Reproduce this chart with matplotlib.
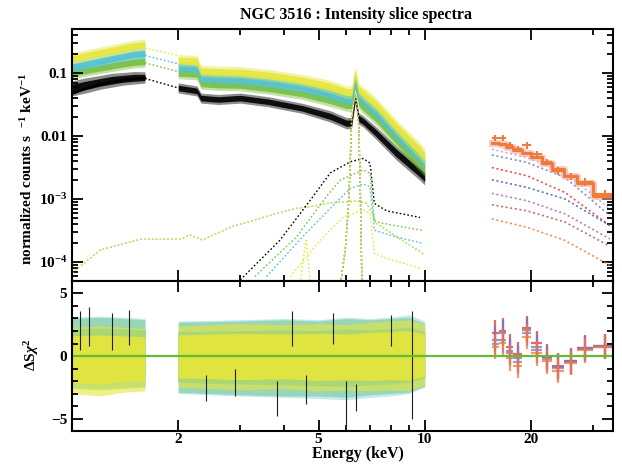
import matplotlib
matplotlib.use("Agg")
import matplotlib.pyplot as plt
import numpy as np
from matplotlib.ticker import FixedLocator, FixedFormatter, NullFormatter, LogLocator

plt.rcParams["font.family"] = ["Liberation Serif", "DejaVu Serif"]
plt.rcParams["font.weight"] = "bold"
plt.rcParams["mathtext.fontset"] = "custom"
plt.rcParams["mathtext.rm"] = "Liberation Serif:bold"
plt.rcParams["mathtext.it"] = "Liberation Serif:bold:italic"
plt.rcParams["mathtext.bf"] = "Liberation Serif:bold"

# ---- slice spectra, 1-1.6 keV (band centre, normalized counts/s/keV) ----
soft_energy = [1.0, 1.1, 1.2, 1.3, 1.4, 1.5, 1.61]
soft_black = [0.057, 0.064, 0.071, 0.077, 0.081, 0.084, 0.085]
soft_green = [0.100, 0.110, 0.120, 0.130, 0.140, 0.148, 0.152]
soft_cyan = [0.125, 0.140, 0.155, 0.170, 0.185, 0.200, 0.205]
soft_yellow = [0.170, 0.190, 0.210, 0.230, 0.250, 0.270, 0.280]
soft_spread = [0.09, 0.09, 0.09, 0.09, 0.09, 0.09, 0.09]       # dex half width
soft_spread_black = [0.12, 0.12, 0.11, 0.11, 0.10, 0.10, 0.09]
soft_model_black = [0.047, 0.057, 0.066, 0.073, 0.078, 0.081, 0.083]

# ---- slice spectra, 2-10 keV ----
hard_energy = [2.0, 2.26, 2.32, 2.6, 3.0, 3.6, 4.5, 5.4, 6.0, 6.2, 6.35, 6.5, 6.7, 7.3, 8.3, 9.7, 10.0]
hard_black = [0.058, 0.052, 0.040, 0.038, 0.040, 0.035, 0.0275, 0.0205, 0.016, 0.016, 0.040,
              0.019, 0.017, 0.011, 0.0054, 0.0026, 0.0022]
hard_green = [0.100, 0.096, 0.068, 0.065, 0.064, 0.057, 0.047, 0.037, 0.031, 0.031, 0.065,
              0.034, 0.029, 0.019, 0.0087, 0.0037, 0.0031]
hard_cyan = [0.125, 0.120, 0.085, 0.082, 0.080, 0.072, 0.060, 0.047, 0.039, 0.039, 0.080,
             0.043, 0.037, 0.024, 0.011, 0.0048, 0.0040]
hard_yellow = [0.160, 0.155, 0.108, 0.105, 0.103, 0.093, 0.077, 0.061, 0.050, 0.050, 0.100,
               0.055, 0.047, 0.031, 0.014, 0.0058, 0.0047]
hard_spread = [0.09, 0.09, 0.09, 0.09, 0.09, 0.09, 0.09, 0.10, 0.10, 0.10, 0.10,
               0.10, 0.11, 0.11, 0.12, 0.13, 0.13]
hard_spread_black = [0.08, 0.08, 0.08, 0.08, 0.08, 0.08, 0.08, 0.09, 0.09, 0.09, 0.09,
                     0.09, 0.09, 0.10, 0.11, 0.12, 0.12]

# ---- model across the 1.6-2 keV gap ----
gap_energy = [1.61, 2.0]
gap_black = [0.082, 0.058]
gap_green = [0.145, 0.105]
gap_cyan = [0.190, 0.140]
gap_yellow = [0.250, 0.190]

# ---- model components ----
scatter_energy = [1.0, 1.2, 1.56, 2.03, 2.16, 2.34, 2.86, 3.97, 4.33, 4.7, 5.4, 6.46, 6.85,
                  7.1, 7.3, 10.0]
scatter_flux = [6.7e-5, 1.55e-4, 2.3e-4, 2.3e-4, 2.7e-4, 2.24e-4, 3.7e-4, 6.3e-4, 7.1e-4,
                7.5e-4, 8.7e-4, 9.3e-4, 8.5e-4, 6.0e-4, 4.1e-4, 1.3e-4]

absorbed_energy_black = [3.0, 3.88, 4.74, 5.4, 6.15, 6.7, 7.0, 7.2, 7.8, 9.7]
absorbed_black = [5.2e-5, 2.2e-4, 9.6e-4, 2.6e-3, 3.9e-3, 4.4e-3, 3.7e-3, 8.5e-4, 6.5e-4, 5.1e-4]
absorbed_energy_green = [3.3, 4.33, 5.26, 5.76, 6.7, 7.0, 7.2, 8.0, 9.8]
absorbed_green = [5.9e-5, 2.5e-4, 1.09e-3, 2.0e-3, 2.9e-3, 2.55e-3, 4.4e-4, 3.9e-4, 3.2e-4]
absorbed_energy_cyan = [3.56, 4.6, 5.64, 6.15, 6.7, 7.0, 7.2, 8.3, 9.8]
absorbed_cyan = [5.9e-5, 2.85e-4, 9.1e-4, 1.48e-3, 1.73e-3, 1.57e-3, 3.2e-4, 2.5e-4, 2.0e-4]
absorbed_energy_yellow = [4.16, 5.05, 5.88, 6.7, 7.0, 7.2, 7.8, 9.8]
absorbed_yellow = [5.9e-5, 2.2e-4, 5.2e-4, 6.7e-4, 5.9e-4, 1.38e-4, 1.14e-4, 7.9e-5]

fe_line_energy = [5.75, 5.95, 6.08, 6.14, 6.2, 6.27, 6.35, 6.43, 6.5, 6.56, 6.6, 6.64]
fe_line_flux = [4e-5, 1.5e-4, 8e-4, 3e-3, 1.6e-2, 3.5e-2, 4.2e-2, 3e-2, 1.5e-2, 2e-3, 3e-4, 4e-5]
weak_line_energy = [4.42, 4.55, 4.61, 4.67, 4.74]
weak_line_flux = [4e-5, 1.4e-4, 2.2e-4, 1.2e-4, 4e-5]

# ---- hard X-ray slices (15-35 keV) ----
bat_edges = [15.48, 16.26, 17.02, 17.82, 18.87, 20.04, 21.49, 22.98, 24.85, 27.06, 30.03, 35.0]
bat_model = [7.8e-3, 7.5e-3, 6.6e-3, 6.0e-3, 5.3e-3, 4.6e-3, 3.8e-3, 3.0e-3, 2.33e-3, 1.82e-3, 1.1e-3]
bat_flux = [9.4e-3, 9.4e-3, 7.1e-3, 6.3e-3, 7.1e-3, 5.1e-3, 3.9e-3, 2.8e-3, 2.33e-3, 1.87e-3, 1.2e-3]
bat_err = [1.1e-3, 1.1e-3, 0.85e-3, 0.75e-3, 0.8e-3, 0.6e-3, 0.48e-3, 0.38e-3, 0.3e-3, 0.25e-3, 0.17e-3]

bat_comp_energy = [15.5, 19.5, 25.0, 33.5]
bat_comp_violet = [6.17e-3, 4.55e-3, 2.64e-3, 6.95e-4]
bat_comp_blue = [5.01e-3, 3.80e-3, 2.20e-3, 5.45e-4]
bat_comp_red = [3.16e-3, 2.34e-3, 1.27e-3, 3.79e-4]
bat_comp_navy = [2.02e-3, 1.53e-3, 1.0e-3, 3.79e-4]
bat_comp_purple = [1.23e-3, 9.4e-4, 5.8e-4, 2.33e-4]
bat_comp_brown = [8.1e-4, 6.5e-4, 4.3e-4, 1.79e-4]
bat_comp_orange = [4.83e-4, 3.57e-4, 2.2e-4, 8.85e-5]

# ---- residuals (band envelopes, lower / upper) ----
res_soft_energy = [1.0, 1.2, 1.4, 1.61]
res_hard_energy = [2.0, 3.0, 4.0, 5.0, 6.0, 7.0, 8.0, 9.0, 10.0]
res_soft = {
    "green": ([-2.6, -2.7, -2.6, -2.5], [3.0, 3.1, 3.0, 2.9]),
    "cyan": ([-2.5, -2.6, -2.5, -2.4], [3.1, 3.2, 3.1, 3.0]),
    "yellow": ([-3.0, -3.2, -2.9, -2.8], [2.3, 2.4, 2.3, 2.2]),
}
res_hard = {
    "green": ([-2.9, -3.1, -3.2, -3.2, -3.3, -3.1, -3.0, -2.9, -2.4],
              [2.7, 2.8, 2.9, 2.8, 3.0, 2.9, 3.0, 3.1, 2.6]),
    "cyan": ([-3.0, -3.2, -3.3, -3.4, -3.5, -3.3, -3.2, -3.0, -2.5],
             [2.8, 2.9, 3.0, 2.9, 3.1, 3.0, 3.1, 3.3, 2.8]),
    "yellow": ([-2.5, -2.7, -2.6, -2.8, -2.7, -2.8, -2.7, -2.8, -2.3],
               [2.4, 2.6, 2.5, 2.6, 2.5, 2.7, 2.8, 2.9, 2.5]),
}
spike_energy = [1.05, 1.12, 1.3, 1.45, 2.4, 2.9, 3.8, 4.2, 4.6, 5.5, 6.0, 6.4, 8.0, 9.2]
spike_low = [0.5, 0.8, 0.5, 0.9, -3.6, -3.2, -4.8, 0.8, -3.8, 1.0, -5.6, -4.4, 0.8, -5.0]
spike_high = [3.6, 3.9, 3.4, 3.7, -1.5, -1.0, -2.0, 3.6, -1.5, 3.4, -2.0, -2.2, 3.3, 3.6]

bat_res_red = [1.85, 2.01, 0.74, 0.16, 2.20, 1.01, -0.05, -0.79, -0.37, 0.66, 0.79]
bat_res_blue = [1.32, 1.85, 0.42, -0.19, 2.06, 0.74, -0.11, -0.85, -0.42, 0.61, 0.79]
bat_res_purple = [0.95, 1.27, 0.21, -0.45, 1.80, 0.48, -0.26, -0.98, -0.48, 0.53, 0.74]
bat_res_orange = [0.74, 1.08, -0.19, -0.79, 1.53, 0.21, -0.40, -1.16, -0.53, 0.48, 0.74]

colors = {"black": "#000000", "green": "#78c043", "cyan": "#4fc1d2", "yellow": "#e6e63c"}
bat_colors = {"violet": "#c894d6", "blue": "#5a7fc8", "red": "#e8322c", "navy": "#3a5fb4",
              "purple": "#a868bc", "brown": "#b5564c", "orange": "#f07a38"}
dot = (0, (1.2, 1.6))

fig = plt.figure(figsize=(6.22, 4.66), dpi=100)
ax1 = fig.add_axes([0.1158, 0.397, 0.8698, 0.5408])
ax2 = fig.add_axes([0.1158, 0.0751, 0.8698, 0.3219])


def log_band(ax, x, centre, spread, color):
    # soft outer edge (sparse noisy channels) and dense inner core
    centre, spread = np.array(centre), np.array(spread)
    ax.fill_between(x, centre * 10 ** -spread, centre * 10 ** spread, color=color, lw=0, alpha=0.45)
    ax.fill_between(x, centre * 10 ** (-0.55 * spread), centre * 10 ** (0.55 * spread),
                    color=color, lw=0, alpha=0.9)


def lin_band(ax, x, lo, hi, color, outer_alpha):
    lo, hi = np.array(lo), np.array(hi)
    ax.fill_between(x, lo, hi, color=color, lw=0, alpha=outer_alpha)
    ax.fill_between(x, 0.7 * lo, 0.7 * hi, color=color, lw=0, alpha=0.9)


# ---------- top panel ----------
soft_sets = [("black", soft_black, soft_spread_black), ("green", soft_green, soft_spread),
             ("cyan", soft_cyan, soft_spread), ("yellow", soft_yellow, soft_spread)]
hard_sets = [("black", hard_black, hard_spread_black), ("green", hard_green, hard_spread),
             ("cyan", hard_cyan, hard_spread), ("yellow", hard_yellow, hard_spread)]
for (name, sflux, sspr), (_, hflux, hspr) in zip(soft_sets, hard_sets):
    log_band(ax1, soft_energy, sflux, sspr, colors[name])
    log_band(ax1, hard_energy, hflux, hspr, colors[name])
ax1.plot(soft_energy, soft_model_black, color="black", lw=1.8)

for name, g in [("black", gap_black), ("green", gap_green), ("cyan", gap_cyan), ("yellow", gap_yellow)]:
    ax1.plot(gap_energy, g, color=colors[name], lw=1.0, ls=dot)

for name in ["cyan", "yellow"]:
    ax1.plot(scatter_energy, scatter_flux, color=colors[name], lw=1.0, ls=dot)
ax1.plot(absorbed_energy_black, absorbed_black, color=colors["black"], lw=1.0, ls=dot)
ax1.plot(absorbed_energy_green, absorbed_green, color=colors["green"], lw=1.0, ls=dot)
ax1.plot(absorbed_energy_cyan, absorbed_cyan, color=colors["cyan"], lw=1.0, ls=dot)
ax1.plot(absorbed_energy_yellow, absorbed_yellow, color=colors["yellow"], lw=1.0, ls=dot)
for name in ["black", "green", "yellow"]:
    ax1.plot(fe_line_energy, fe_line_flux, color=colors[name], lw=1.0, ls=dot)
ax1.plot(weak_line_energy, weak_line_flux, color=colors["yellow"], lw=1.0, ls=dot)

for key, vals in [("violet", bat_comp_violet), ("blue", bat_comp_blue), ("red", bat_comp_red),
                  ("navy", bat_comp_navy), ("purple", bat_comp_purple), ("brown", bat_comp_brown),
                  ("orange", bat_comp_orange)]:
    ax1.plot(bat_comp_energy, vals, color=bat_colors[key], lw=1.2, ls=dot, alpha=0.85)

step_y = bat_model + [bat_model[-1]]
ax1.step(bat_edges, step_y, where="post", color="#f4a6a0", lw=5, alpha=0.6)
ax1.step(bat_edges, step_y, where="post", color=bat_colors["navy"], lw=1.2, alpha=0.7)
ax1.step(bat_edges, step_y, where="post", color=bat_colors["orange"], lw=2.2)

bat_edges_arr = np.array(bat_edges)
bat_center = np.sqrt(bat_edges_arr[:-1] * bat_edges_arr[1:])
bat_xerr = [bat_center - bat_edges_arr[:-1], bat_edges_arr[1:] - bat_center]
ax1.errorbar(bat_center, bat_flux, xerr=bat_xerr, yerr=bat_err, fmt="none",
             ecolor=bat_colors["orange"], elinewidth=1.5)

ax1.set_yscale("log")
ax1.set_ylim(5e-5, 0.5)
ax1.yaxis.set_major_locator(FixedLocator([1e-4, 1e-3, 1e-2, 1e-1]))
ax1.yaxis.set_major_formatter(FixedFormatter([r"$10^{-4}$", r"$10^{-3}$", "0.01", "0.1"]))
ax1.yaxis.set_minor_locator(LogLocator(base=10, subs=np.arange(2, 10), numticks=20))
ax1.yaxis.set_minor_formatter(NullFormatter())

# ---------- residual panel ----------
ax2.vlines(spike_energy, spike_low, spike_high, color="#202020", lw=0.8)
for name, outer in [("green", 0.45), ("cyan", 0.35), ("yellow", 0.6)]:
    lo, hi = res_soft[name]
    lin_band(ax2, res_soft_energy, lo, hi, colors[name], outer)
    lo, hi = res_hard[name]
    lin_band(ax2, res_hard_energy, lo, hi, colors[name], outer)

for key, vals in [("red", bat_res_red), ("blue", bat_res_blue), ("purple", bat_res_purple),
                  ("orange", bat_res_orange)]:
    ax2.errorbar(bat_center, vals, xerr=bat_xerr, yerr=1.0, fmt="none",
                 ecolor=bat_colors[key], elinewidth=1.6, alpha=0.75)
ax2.axhline(0, color="#66bb33", lw=1.6)

ax2.set_ylim(-6, 6)
ax2.yaxis.set_major_locator(FixedLocator([-5, 0, 5]))
ax2.yaxis.set_major_formatter(FixedFormatter(["\u22125", "0", "5"]))
ax2.yaxis.set_minor_locator(FixedLocator(np.arange(-6, 7)))

for ax in (ax1, ax2):
    ax.set_xscale("log")
    ax.set_xlim(1.0, 34.2)
    ax.xaxis.set_major_locator(FixedLocator([2, 5, 10, 20]))
    ax.xaxis.set_minor_locator(FixedLocator([3, 4, 6, 7, 8, 9, 30]))
    ax.xaxis.set_minor_formatter(NullFormatter())
    ax.tick_params(which="both", direction="in", top=True, right=True, width=1.3, labelsize=11)
    ax.tick_params(which="major", length=8)
    ax.tick_params(which="minor", length=4)
    for s in ax.spines.values():
        s.set_linewidth(1.5)
ax1.tick_params(axis="x", labelbottom=False)
ax2.xaxis.set_major_formatter(FixedFormatter(["2", "5", "10", "20"]))
ax2.tick_params(axis="x", pad=1.5)

fig.text(0.572, 0.968, "NGC 3516 : Intensity slice spectra", ha="center", va="center",
         fontsize=11.5, fontweight="bold")
fig.text(0.576, 0.026, "Energy (keV)", ha="center", va="center", fontsize=11.5, fontweight="bold")
fig.text(0.043, 0.638, r"normalized counts s  $^{-1}$ keV$^{-1}$", rotation=90,
         ha="center", va="center", fontsize=11, fontweight="bold")
fig.text(0.05, 0.238, r"$\Delta\mathrm{S}\chi^{2}$", rotation=90, ha="center", va="center",
         fontsize=11)

fig.savefig("out.png", dpi=100)
